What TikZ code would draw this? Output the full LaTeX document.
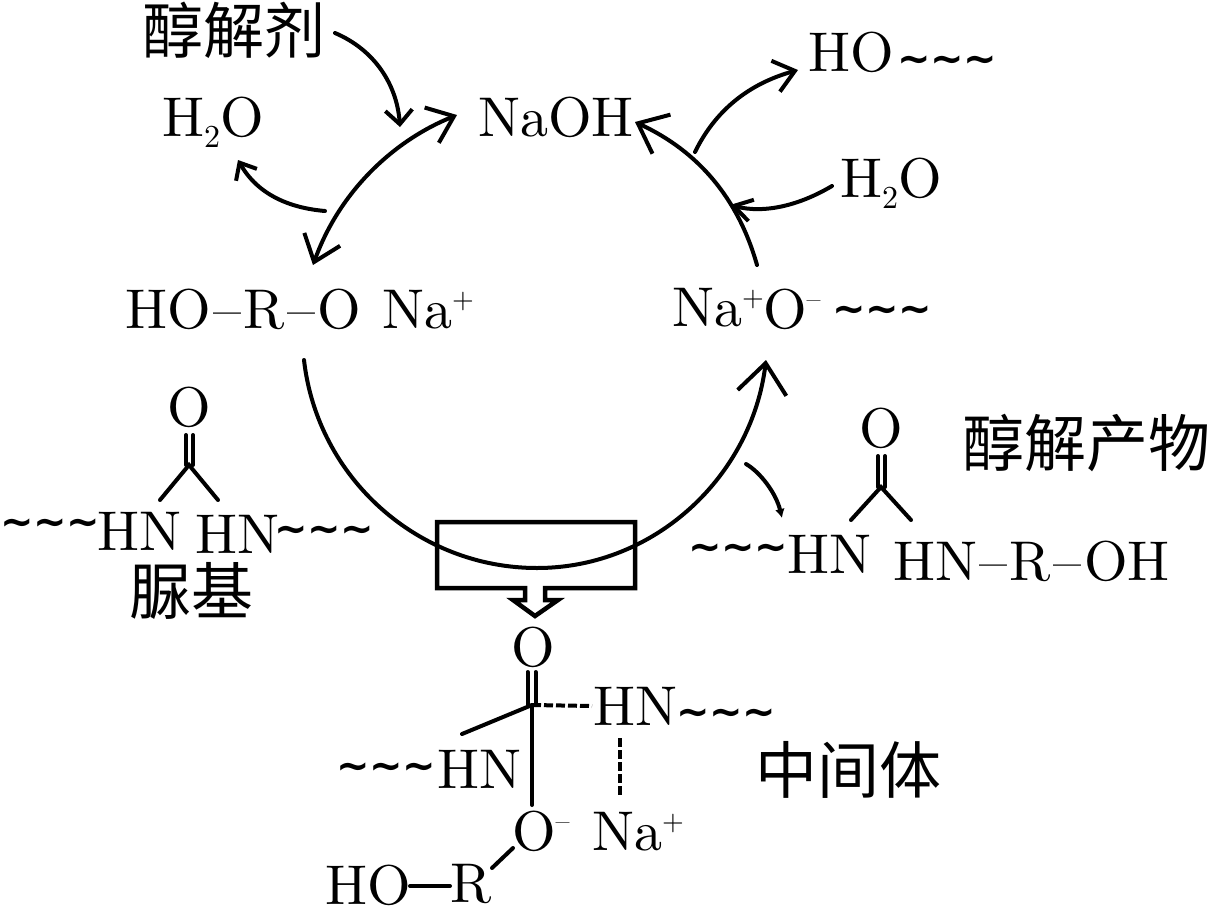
\documentclass[tikz,border=0pt]{standalone}
\usepackage{fontspec}
\usetikzlibrary{arrows.meta}
\newfontfamily\cjk{Noto Sans CJK SC}
\newfontfamily\lmt{lmroman10-regular.otf}
\newfontfamily\wavef{DejaVu Sans Bold}
\newcommand{\bigf}{\lmt\fontsize{56}{60}\selectfont}
\newcommand{\lowtxt}[1]{\raisebox{-11pt}{\fontsize{32}{32}\selectfont #1}}
\newcommand{\uptxt}[1]{\raisebox{20pt}{\fontsize{28}{28}\selectfont #1}}
\newcommand{\tld}{{\wavef\fontsize{40}{40}\selectfont\char"7E\kern-0.01em\char"7E\kern-0.01em\char"7E}}
\newcommand{\dd}{\kern2.5pt–\kern2.5pt}
\tikzset{
  chem/.style={inner sep=0pt,outer sep=0pt,anchor=base west,font=\bigf},
  waves/.style={inner sep=0pt,outer sep=0pt,anchor=base west,xshift=-4pt},
  hanzi/.style={inner sep=0pt,outer sep=0pt,anchor=center,font=\cjk\fontsize{62}{62}\selectfont},
  bond/.style={line width=4pt,line cap=round},
  curve/.style={line width=4pt,line cap=round},
  flow/.style 2 args={curve,-{Straight Barb[length=#1pt,width=#2pt,line width=4pt]}},
  both/.style 2 args={curve,{Straight Barb[length=#1pt,width=#2pt,line width=4pt]}-{Straight Barb[length=#1pt,width=#2pt,line width=4pt]}},
  opn/.style={line width=4.5pt,line join=miter}
}
\begin{document}
\begin{tikzpicture}[x=1pt,y=-1pt]
\useasboundingbox (0,0) rectangle (1208,911);
% top texts
\node[hanzi,font=\cjk\fontsize{61}{61}\selectfont] (alc) at (234,30) {醇解剂};
\node[chem] (w1) at (162,136) {H\lowtxt{2}O};
\node[chem] (naoh) at (478,136) {NaOH};
\node[chem] (ho) at (808,71) {HO};
\node[waves] (hot) at (901,72) {\tld};
\node[chem] (w2) at (840,197) {H\lowtxt{2}O};
\node[chem] (alk) at (125,328) {HO\dd R\dd O};
\node[chem] (alkna) at (382,328) {Na\uptxt{+}};
\node[chem] (nao) at (672,326) {Na\uptxt{+}};
\node[chem] (nao2) at (763,328) {O\uptxt{–}};
\node[waves] (naot) at (836,322) {\tld};
% left urea
\node[chem,anchor=base] (uo) at (189,426) {O};
\node[waves] (ult) at (4,535) {\tld};
\node[chem] (uln) at (97,550) {HN};
\node[chem] (urn) at (195,553) {HN};
\node[waves] (urt) at (278,542) {\tld};
\node[hanzi] (ug) at (191,591) {脲基};
\coordinate (ua) at (189,465); \coordinate (ub) at (160,500); \coordinate (uc) at (218,500);
\draw[bond] (186,435) -- (186,465) (193,435) -- (193,465);
\draw[bond] (ub) -- (ua) -- (uc);
% right urea
\node[chem,anchor=base] (po) at (881,447) {O};
\node[waves] (plt) at (692,560) {\tld};
\node[chem] (pln) at (787,573) {HN};
\node[chem] (prn) at (893,580) {HN\dd R\dd OH};
\node[hanzi] (pg) at (1086,443) {醇解产物};
\coordinate (pa) at (881,487); \coordinate (pb) at (851,520); \coordinate (pc) at (911,520);
\draw[bond] (878,456) -- (878,487) (885,456) -- (885,487);
\draw[bond] (pb) -- (pa) -- (pc);
% intermediate
\node[chem,anchor=base] (io) at (533,666) {O};
\node[chem] (ir) at (593,725) {HN};
\node[waves] (irt) at (680,725) {\tld};
\node[chem] (il) at (437,788) {HN};
\node[waves] (ilt) at (340,779) {\tld};
\node[chem] (im) at (512,850) {O\uptxt{–}};
\node[chem] (ina) at (592,850) {Na\uptxt{+}};
\node[chem] (iho) at (325,904) {HO};
\node[chem] (ir2) at (450,902) {R};
\node[hanzi] (ig) at (848,770) {中间体};
\coordinate (ic) at (532,705);
\coordinate (i1) at (592,706); \coordinate (i2) at (462,734); \coordinate (i3) at (532,805);
\draw[bond] (527.5,672) -- (527.5,705) (535.5,672) -- (535.5,705);
\draw[bond,dash pattern=on 9pt off 3pt,line cap=butt] (ic) -- (i1);
\draw[bond] (ic) -- (i2);
\draw[bond] (ic) -- (i3);
\draw[bond,dash pattern=on 9pt off 3pt,line cap=butt] (620,738) -- (620,797);
\draw[bond] (492,868) -- (513,848);
\draw[bond] (410,886) -- (450,886);
% cycle
\coordinate (bs) at (304,360); \coordinate (bb) at (537,568); \coordinate (be) at (766,360);
\draw[curve] (bs) .. controls (317.4,478) and (418,568) .. (bb);
\draw[flow={30}{49}] (bb) .. controls (656,568) and (752,475) .. (be);
\coordinate (rs) at (757,265); \coordinate (rt) at (635,122);
\draw[flow={26}{43}] (rs) .. controls (738,198) and (698,151) .. (rt);
\coordinate (hs) at (695,152); \coordinate (ht) at (798,70);
\draw[flow={20}{32}] (hs) .. controls (718,105) and (755,82) .. (ht);
\coordinate (ws) at (832,186); \coordinate (wt) at (730,205);
\draw[flow={18}{22}] (ws) .. controls (800,205) and (765,214) .. (wt);
\coordinate (as) at (335,33); \coordinate (at1) at (400,127);
\draw[flow={14}{27}] (as) .. controls (375,50) and (397,85) .. (at1);
\coordinate (da) at (457,115); \coordinate (db) at (313,265);
\draw[both={24}{38}] (da) .. controls (395,140) and (340,190) .. (db);
\coordinate (es) at (325,211); \coordinate (et) at (238,160);
\draw[flow={14}{24}] (es) .. controls (290,208) and (258,195) .. (et);
\coordinate (cs) at (746,464); \coordinate (ct) at (782,518);
\draw[curve,-{Latex[length=9pt,width=10pt]}] (cs) .. controls (760,472) and (776,493) .. (ct);
% open box arrow
\draw[opn] (525,588) -- (437,588) -- (437,522) -- (635,522) -- (635,588) -- (545,588) -- (545,600) -- (558,600) -- (535,616) -- (513,600) -- (525,600) -- cycle;
\end{tikzpicture}
\end{document}
